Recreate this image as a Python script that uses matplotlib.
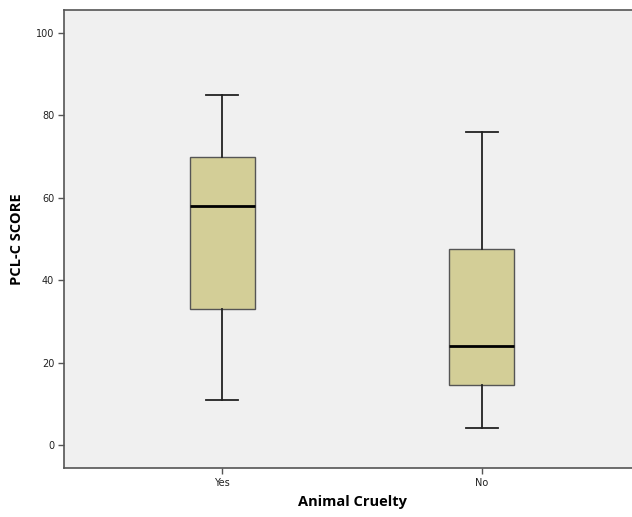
import matplotlib
matplotlib.use("Agg")
import matplotlib.pyplot as plt

categories = ["Yes", "No"]
whisker_low = [11, 4]
q1 = [33, 14.5]
median = [58, 24]
q3 = [70, 47.5]
whisker_high = [85, 76]
y_ticks = [0, 20, 40, 60, 80, 100]

stats = []
for i, name in enumerate(categories):
    stats.append({"label": name, "whislo": whisker_low[i], "q1": q1[i],
                  "med": median[i], "q3": q3[i], "whishi": whisker_high[i],
                  "fliers": []})

fig = plt.figure(figsize=(6.32, 5.17), dpi=100)
ax = fig.add_axes([64 / 632, 49 / 517, 576 / 632, 458 / 517])
ax.set_facecolor("#f0f0f0")

ax.bxp(stats, positions=range(len(categories)), widths=0.25, patch_artist=True,
       showfliers=False,
       boxprops=dict(facecolor="#d3ce97", edgecolor="#555555", linewidth=1),
       medianprops=dict(color="black", linewidth=2),
       whiskerprops=dict(color="#222222", linewidth=1.3),
       capprops=dict(color="#222222", linewidth=1.3),
       capwidths=0.123)

ax.set_xlim(-0.61, 1.61)
ax.set_ylim(-5.6, 105.6)
ax.set_yticks(y_ticks)
ax.set_xticks(range(len(categories)))
ax.set_xticklabels(categories)

for s in ax.spines.values():
    s.set_color("#555555")
    s.set_linewidth(1.2)
ax.tick_params(axis="both", labelsize=7, length=4, width=1, color="#555555",
               labelcolor="#222222", pad=3)

ax.set_ylabel("PCL-C SCORE", fontsize=10.5, fontweight="bold",
              family="Open Sans")
ax.yaxis.set_label_coords(-(64 - 24) / 576, 0.5)
ax.set_xlabel("Animal Cruelty", fontsize=10.5, fontweight="bold",
              family="Open Sans")
ax.xaxis.set_label_coords((352 - 64) / 576, -0.06)

fig.savefig("out.png", dpi=100)
